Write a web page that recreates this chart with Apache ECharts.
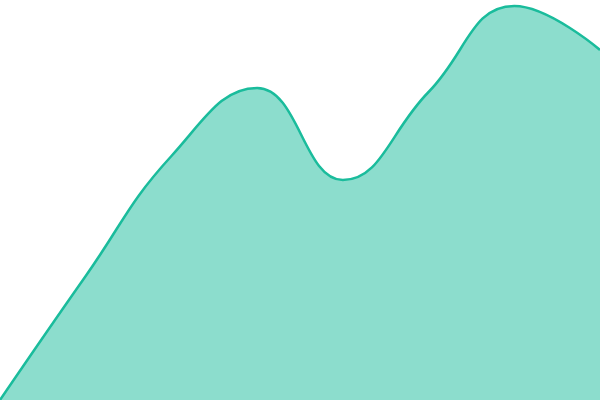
<!DOCTYPE html>
<html>
<head>
<meta charset="utf-8">
<script src="https://cdn.jsdelivr.net/npm/echarts@6/dist/echarts.min.js"></script>
<style>
    html, body { margin: 0; padding: 0; background: #fff; }
    #chart { width: 600px; height: 400px; }
</style>
</head>
<body>
<div id="chart"></div>
<script>
let categories = ["1", "2", "3", "4", "5", "6", "7", "8"];
let values = [0, 31, 61, 78, 55, 77, 98.5, 87.5];
let yMax = 100;

let myEcharts = echarts.init(document.getElementById("chart"));
let option = {
    animation: false,
    grid: { left: 0, right: 0, top: 0, bottom: 0 },
    xAxis: {
        type: "category",
        data: categories,
        boundaryGap: false,
        show: false
    },
    yAxis: {
        type: "value",
        min: 0,
        max: yMax,
        show: false
    },
    series: [
        {
            type: "line",
            data: values,
            smooth: 0.45,
            symbol: "none",
            lineStyle: { color: "#1abc9c", width: 2.5 },
            areaStyle: { color: "#1abc9c", opacity: 0.5 }
        }
    ]
};
myEcharts.setOption(option);
</script>
</body>
</html>
